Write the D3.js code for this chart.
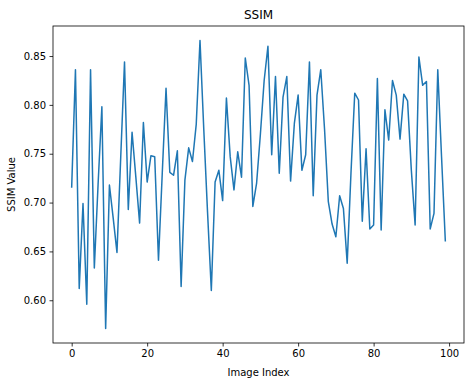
<!DOCTYPE html>
<html><head><meta charset="utf-8">
<script src="https://cdn.jsdelivr.net/npm/d3@7"></script>
<style>body{margin:0;background:#fff}svg text{font-family:"DejaVu Sans",sans-serif;fill:#000}</style>
</head><body><svg id="c" width="474" height="386"></svg>
<script>
const ssim = [0.716,0.836,0.612,0.699,0.596,0.836,0.633,0.719,0.798,0.571,
0.718,0.684,0.649,0.747,0.844,0.693,0.772,0.726,0.679,0.782,
0.721,0.748,0.747,0.641,0.730,0.817,0.731,0.728,0.753,0.614,
0.723,0.756,0.742,0.780,0.866,0.775,0.690,0.610,0.721,0.733,
0.702,0.807,0.747,0.713,0.752,0.726,0.848,0.820,0.696,0.720,
0.770,0.825,0.860,0.749,0.829,0.730,0.808,0.829,0.722,0.781,
0.810,0.733,0.749,0.844,0.707,0.810,0.836,0.775,0.701,0.678,
0.665,0.707,0.694,0.638,0.730,0.812,0.805,0.681,0.755,0.673,
0.677,0.827,0.672,0.795,0.764,0.825,0.810,0.765,0.811,0.804,
0.733,0.677,0.849,0.820,0.824,0.673,0.689,0.836,0.747,0.661];
const xTicks = [0,20,40,60,80,100];
const yTicks = [0.60,0.65,0.70,0.75,0.80,0.85];
const title = "SSIM", xLabel = "Image Index", yLabel = "SSIM Value";

const W=474,H=386,m={l:53,r:10,t:26,b:43};
const svg=d3.select("#c");
const n=ssim.length;
const xpad=(n-1)*0.05;
const x=d3.scaleLinear().domain([-xpad,n-1+xpad]).range([m.l,W-m.r]);
const ymin=d3.min(ssim),ymax=d3.max(ssim),ypad=(ymax-ymin)*0.05;
const y=d3.scaleLinear().domain([ymin-ypad,ymax+ypad]).range([H-m.b,m.t]);

const xa=svg.append("g").attr("transform",`translate(0,${H-m.b})`)
 .call(d3.axisBottom(x).tickValues(xTicks).tickFormat(d3.format("d")).tickSizeOuter(0).tickSize(3.5).tickPadding(3.5));
const ya=svg.append("g").attr("transform",`translate(${m.l},0)`)
 .call(d3.axisLeft(y).tickValues(yTicks).tickFormat(d3.format(".2f")).tickSizeOuter(0).tickSize(3.5).tickPadding(3.5));
[xa,ya].forEach(a=>{a.select(".domain").remove();a.selectAll("line").attr("stroke","#000").attr("stroke-width",0.8);
 a.selectAll("text").attr("font-size",10).attr("font-family","DejaVu Sans").attr("fill","#000");});

svg.append("path").datum(ssim)
 .attr("fill","none").attr("stroke","#1f77b4").attr("stroke-width",1.5).attr("stroke-linejoin","round").attr("stroke-linecap","square")
 .attr("d",d3.line().x((d,i)=>x(i)).y(d=>y(d)));

svg.append("rect").attr("x",m.l).attr("y",m.t).attr("width",W-m.l-m.r).attr("height",H-m.t-m.b)
 .attr("fill","none").attr("stroke","#000").attr("stroke-width",0.8);

svg.append("text").attr("x",(m.l+W-m.r)/2).attr("y",m.t-7).attr("text-anchor","middle").attr("font-size",12).text(title);
svg.append("text").attr("x",(m.l+W-m.r)/2).attr("y",H-10).attr("text-anchor","middle").attr("font-size",10).text(xLabel);
svg.append("text").attr("transform",`translate(15,${(m.t+H-m.b)/2}) rotate(-90)`).attr("text-anchor","middle").attr("font-size",10).text(yLabel);
</script></body></html>
